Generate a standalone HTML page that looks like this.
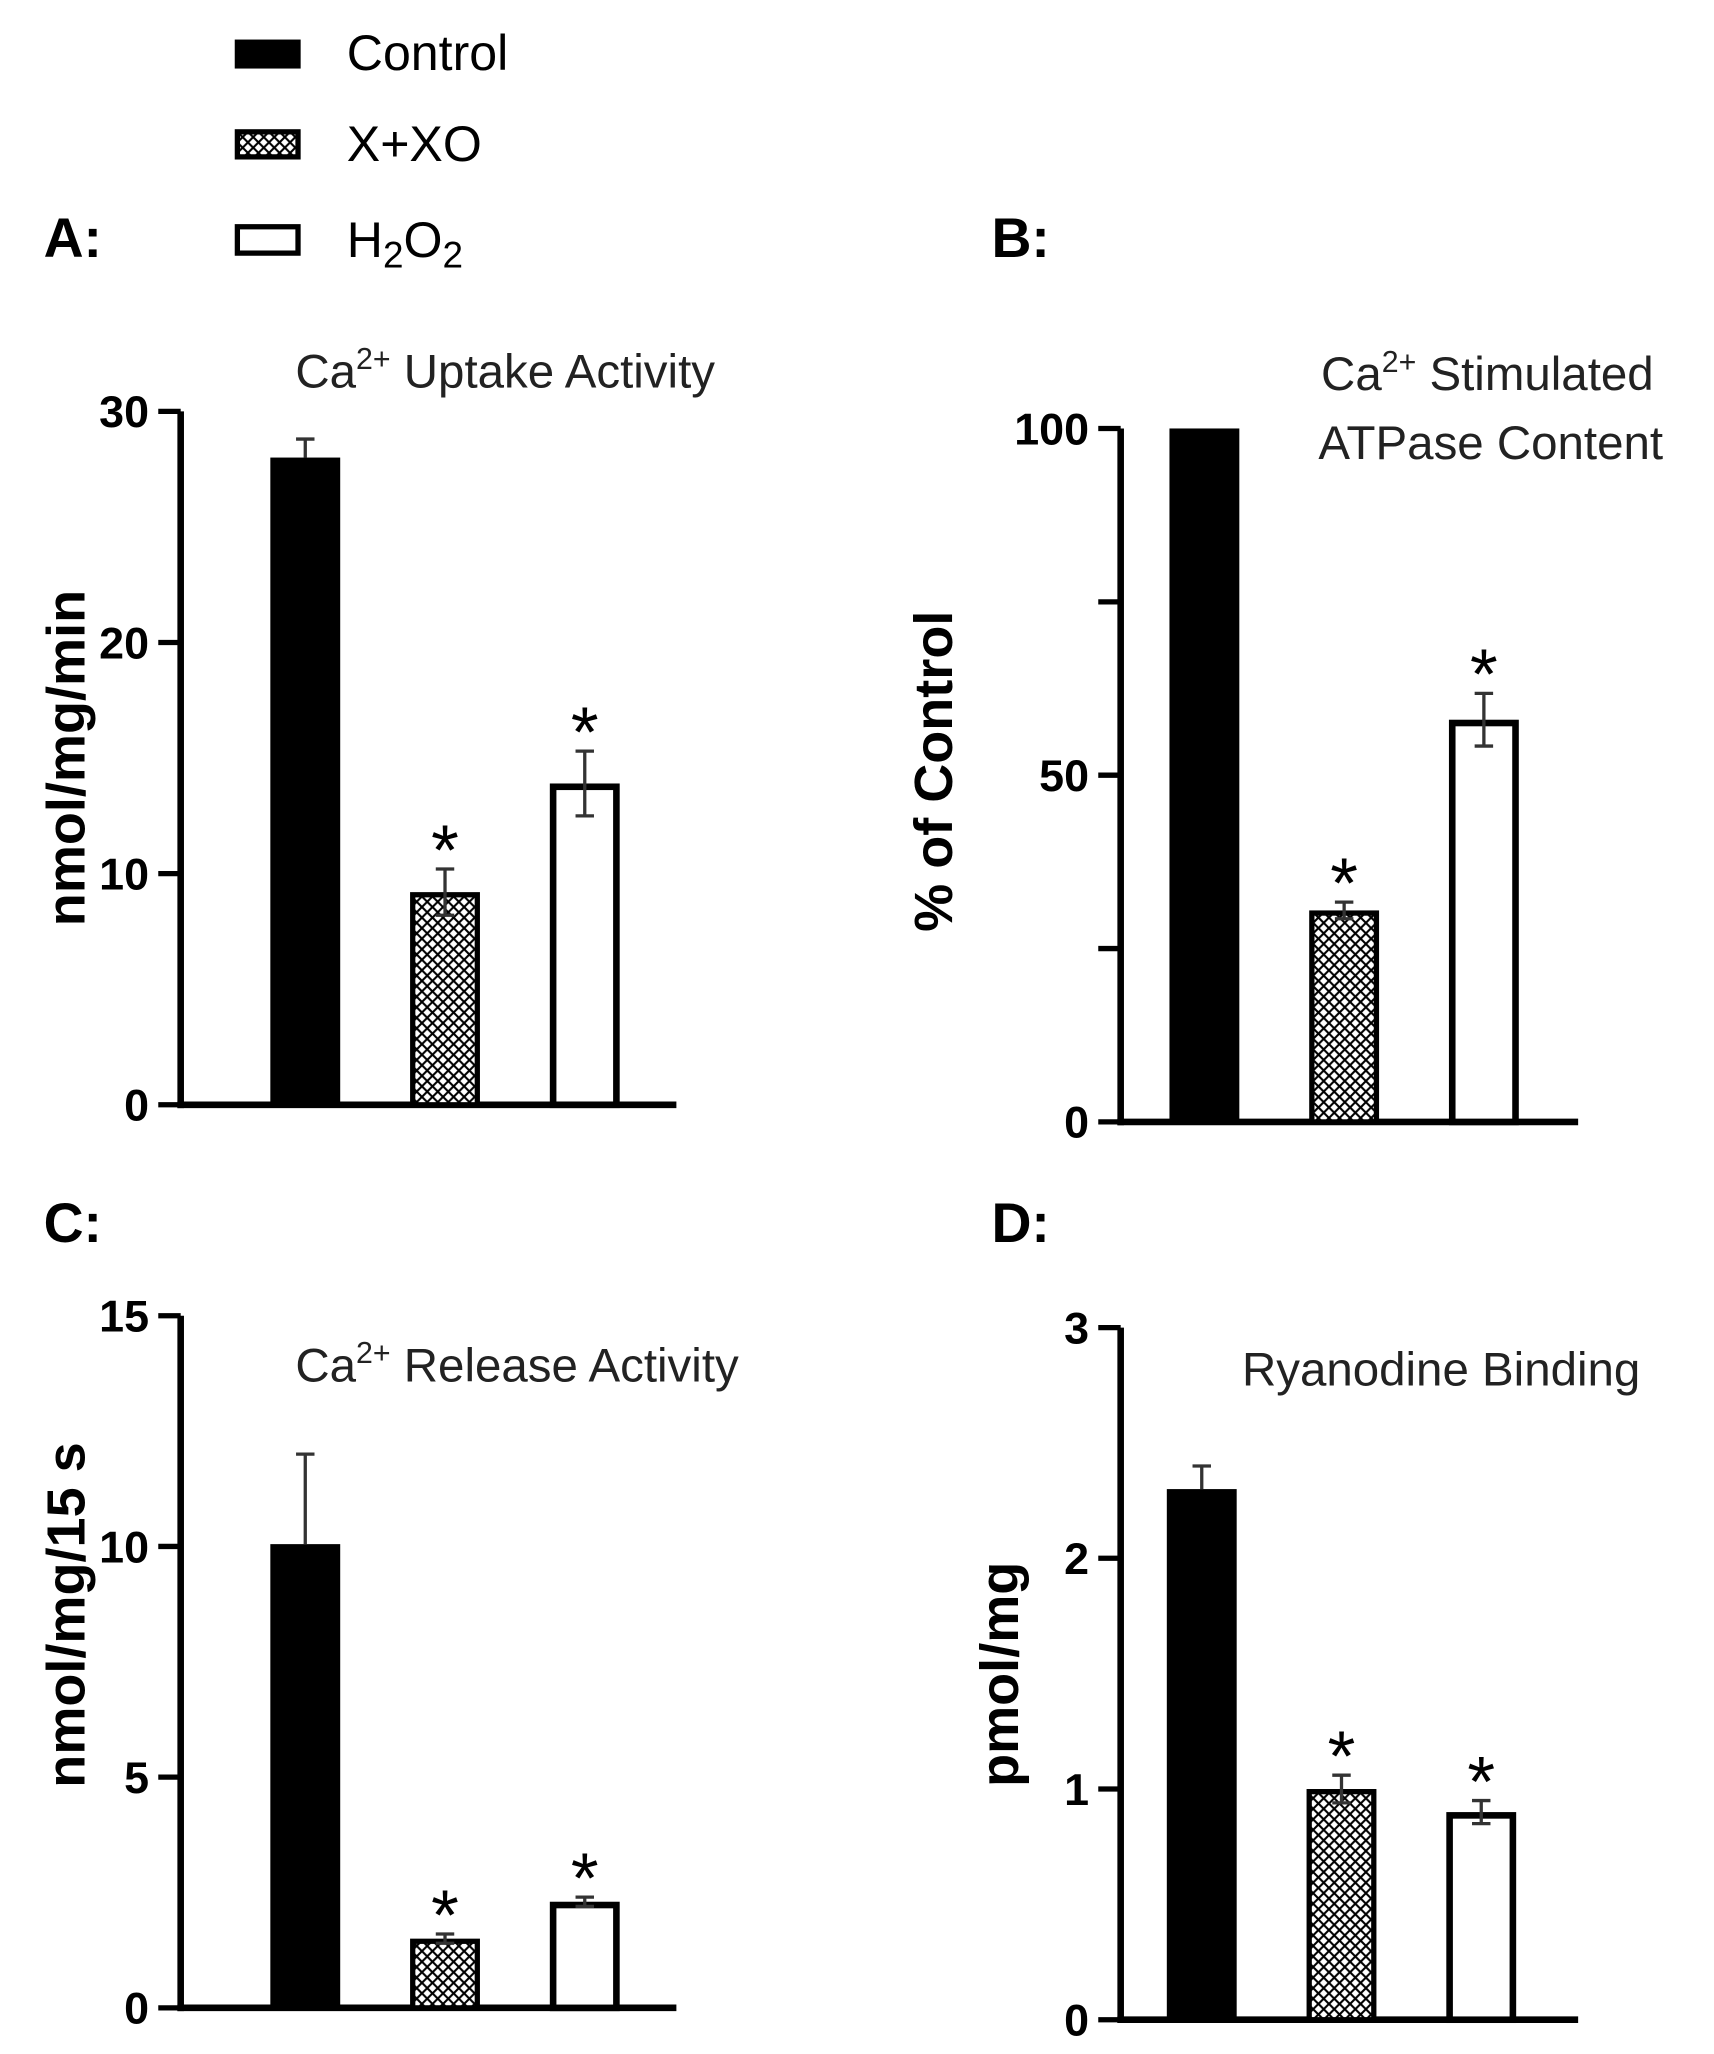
<!DOCTYPE html>
<html><head><meta charset="utf-8"><style>
html,body{margin:0;padding:0;background:#fff;}
svg{display:block;}
</style></head><body>
<svg id="fig" width="1714" height="2054" viewBox="0 0 1300 1558" xmlns="http://www.w3.org/2000/svg" font-family="Liberation Sans, sans-serif">
<defs>
<pattern id="hatch" patternUnits="userSpaceOnUse" width="8" height="8">
<rect width="8" height="8" fill="#fff"/>
<path d="M0,0 L8,8 M8,0 L0,8" stroke="#000" stroke-width="1.6"/>
</pattern>
</defs>
<g>
<rect x="178" y="30" width="50" height="22" fill="#000"/>
<text x="263" y="53" font-size="38">Control</text>
<rect x="180" y="100" width="46" height="19" fill="url(#hatch)" stroke="#000" stroke-width="4"/>
<text x="263" y="122" font-size="38">X+XO</text>
<rect x="180" y="172" width="46" height="20" fill="#fff" stroke="#000" stroke-width="4"/>
<text x="263" y="195" font-size="38">H<tspan font-size="28" dy="8">2</tspan><tspan dy="-8">O</tspan><tspan font-size="28" dy="8">2</tspan></text>
</g>
<text x="33" y="195" font-size="42" font-weight="bold">A:</text>
<text x="752" y="195" font-size="42" font-weight="bold">B:</text>
<text x="33" y="942" font-size="42" font-weight="bold">C:</text>
<text x="752" y="942" font-size="42" font-weight="bold">D:</text>
</svg>
<script>
var groups = ["Control","X+XO","H2O2"];
var aValues = [28, 9.2, 13.9];
var aErrors = [0.8, 1.0, 1.4];
var aTicks = [0,10,20,30];
var bValues = [100, 30.5, 58];
var bErrors = [0, 1.2, 3.8];
var bTicks = [0,25,50,75,100];
var bTickLabels = ["0","","50","","100"];
var cValues = [10.05, 1.5, 2.3];
var cErrors = [1.95, 0.1, 0.1];
var cTicks = [0,5,10,15];
var dValues = [2.3, 1.0, 0.9];
var dErrors = [0.1, 0.06, 0.05];
var dTicks = [0,1,2,3];
var sig = [false, true, true];

var NS = "http://www.w3.org/2000/svg";
var svg = document.getElementById("fig");
function mk(tag, attrs, parent){
  var e = document.createElementNS(NS, tag);
  for (var k in attrs) e.setAttribute(k, attrs[k]);
  (parent||svg).appendChild(e);
  return e;
}
function panel(cfg){
  var g = mk("g", {});
  
  
  var max = cfg.ticks[cfg.ticks.length-1];
  function y(v){ return cfg.y0 - (v/max)*(cfg.y0-cfg.yTop); }
  var ax = mk("line", {x1:cfg.x0, y1:cfg.y0+2.5, x2:cfg.x0, y2:cfg.yTop, stroke:"#000","stroke-width":5}, g);
  
  
  var xa = mk("line", {x1:cfg.x0-2.5, y1:cfg.y0, x2:cfg.xEnd, y2:cfg.y0, stroke:"#000","stroke-width":5}, g);
  
  
  cfg.ticks.forEach(function(t,i){
    var ty = y(t);
    var tk = mk("line", {x1:cfg.x0-17, y1:ty, x2:cfg.x0, y2:ty, stroke:"#000","stroke-width":4}, g);
    
    
    var lab = cfg.tickLabels ? cfg.tickLabels[i] : String(t);
    if (lab !== "") {
      var tl = mk("text", {x:cfg.x0-24, y:ty+12, "font-size":34, "font-weight":"bold", "text-anchor":"end"}, g);
      tl.textContent = lab;
      
      
    }
  });
  cfg.values.forEach(function(v,i){
    var bx = cfg.barX[i], bw = cfg.barW;
    var top = y(v);
    var r;
    if (i===0) r = mk("rect", {x:bx, y:top, width:bw, height:cfg.y0-top, fill:"#000"}, g);
    else if (i===1) r = mk("rect", {x:bx+2, y:top+2, width:bw-4, height:cfg.y0-top-2, fill:"url(#hatch)", stroke:"#000","stroke-width":4}, g);
    else r = mk("rect", {x:bx+2.5, y:top+2.5, width:bw-5, height:cfg.y0-top-2.5, fill:"#fff", stroke:"#000","stroke-width":5}, g);
    
    
    var e = cfg.errors[i];
    if (e > 0) {
      var cx = bx + bw/2;
      var eu = y(v+e), el = y(v-e);
      var eg = mk("g", {stroke:"#333","stroke-width":2.5}, g);
      
      
      mk("line", {x1:cx, y1:eu, x2:cx, y2: i===0 ? top : el}, eg);
      mk("line", {x1:cx-7, y1:eu, x2:cx+7, y2:eu}, eg);
      if (i!==0) mk("line", {x1:cx-7, y1:el, x2:cx+7, y2:el}, eg);
    }
    if (sig[i]) {
      var s = mk("text", {x:bx+bw/2, y:y(v+e)+4, "font-size":54, "text-anchor":"middle"}, g);
      s.textContent = "*";
      
      
    }
  });
  cfg.title.forEach(function(line){
    var t = mk("text", {x:line.x, y:line.y, "font-size":36, fill:"#222"}, g);
    
    
    if (line.ca) {
      t.appendChild(document.createTextNode("Ca"));
      var sp = mk("tspan", {"font-size":23, dy:-14}, t); sp.textContent = "2+";
      var sp2 = mk("tspan", {dy:14}, t); sp2.textContent = " " + line.text;
    } else t.textContent = line.text;
  });
  var yl = mk("text", {x:0, y:0, "font-size":41, "font-weight":"bold", "text-anchor":"middle",
    transform:"translate(" + cfg.ylx + "," + cfg.yly + ") rotate(-90)"}, g);
  yl.textContent = cfg.ylabel;
  
  
}
panel({name:"panel-a", x0:137, xEnd:513, y0:838, yTop:312, ticks:aTicks, values:aValues, errors:aErrors,
  barX:[205,311,417], barW:53, title:[{x:224,y:294,ca:true,text:"Uptake Activity"}], ylabel:"nmol/mg/min", ylx:64, yly:575});
panel({name:"panel-b", x0:850, xEnd:1197, y0:851, yTop:325, ticks:bTicks, tickLabels:bTickLabels, values:bValues, errors:bErrors,
  barX:[887,993,1099], barW:53, title:[{x:1002,y:296,ca:true,text:"Stimulated"},{x:1000,y:348,text:"ATPase Content"}], ylabel:"% of Control", ylx:722, yly:585});
panel({name:"panel-c", x0:137, xEnd:513, y0:1523, yTop:998, ticks:cTicks, values:cValues, errors:cErrors,
  barX:[205,311,417], barW:53, title:[{x:224,y:1048,ca:true,text:"Release Activity"}], ylabel:"nmol/mg/15 s", ylx:64, yly:1225});
panel({name:"panel-d", x0:850, xEnd:1197, y0:1532, yTop:1007, ticks:dTicks, values:dValues, errors:dErrors,
  barX:[885,991,1097], barW:53, title:[{x:942,y:1051,text:"Ryanodine Binding"}], ylabel:"pmol/mg", ylx:772, yly:1270});
</script>
</body></html>
